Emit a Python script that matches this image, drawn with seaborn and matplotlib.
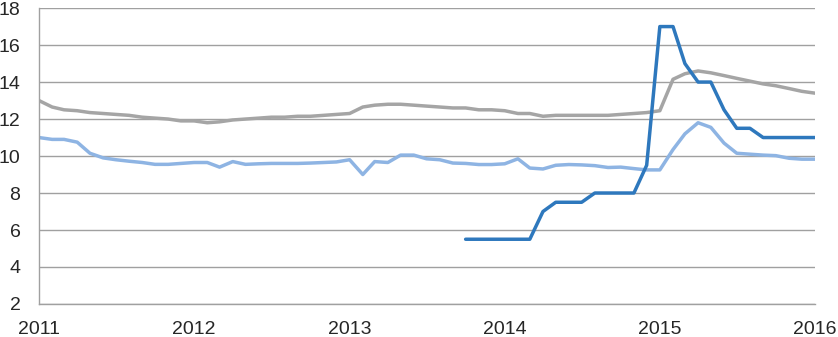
import pandas as pd
import seaborn as sns
import matplotlib.pyplot as plt
import matplotlib.dates as mdates

# monthly values, Jan 2011 .. Jan 2016
months = pd.date_range('2011-01-01', '2016-01-01', freq='MS')

grey_series = [
    13.0, 12.65, 12.5, 12.45, 12.35, 12.3, 12.25, 12.2, 12.1, 12.05, 12.0, 11.9,
    11.9, 11.8, 11.85, 11.95, 12.0, 12.05, 12.1, 12.1, 12.15, 12.15, 12.2, 12.25,
    12.3, 12.65, 12.75, 12.8, 12.8, 12.75, 12.7, 12.65, 12.6, 12.6, 12.5, 12.5,
    12.45, 12.3, 12.3, 12.15, 12.2, 12.2, 12.2, 12.2, 12.2, 12.25, 12.3, 12.35,
    12.45, 14.15, 14.45, 14.6, 14.5, 14.35, 14.2, 14.05, 13.9, 13.8, 13.65, 13.5,
    13.4,
]
light_series = [
    11.0, 10.9, 10.9, 10.75, 10.15, 9.9, 9.8, 9.72, 9.65, 9.55, 9.55, 9.6,
    9.65, 9.65, 9.4, 9.7, 9.55, 9.58, 9.6, 9.6, 9.6, 9.62, 9.65, 9.68,
    9.8, 9.0, 9.7, 9.65, 10.05, 10.05, 9.85, 9.8, 9.62, 9.6, 9.54, 9.54,
    9.58, 9.85, 9.35, 9.3, 9.5, 9.54, 9.52, 9.48, 9.38, 9.4, 9.32, 9.25,
    9.25, 10.35, 11.2, 11.8, 11.55, 10.7, 10.15, 10.1, 10.05, 10.02, 9.88, 9.83,
    9.83,
]
key_rate = [None] * 33 + [
    5.5, 5.5, 5.5,
    5.5, 5.5, 5.5, 7.0, 7.5, 7.5, 7.5, 8.0, 8.0, 8.0, 8.0, 9.5,
    17.0, 17.0, 15.0, 14.0, 14.0, 12.5, 11.5, 11.5, 11.0, 11.0, 11.0, 11.0,
    11.0,
]

df = pd.DataFrame({'date': months, 'grey': grey_series,
                   'light': light_series, 'key': key_rate})
long_df = df.melt(id_vars='date', var_name='series', value_name='value').dropna()

sns.set_style('white')
plt.rcParams['font.family'] = ['Liberation Sans', 'DejaVu Sans']

fig = plt.figure(figsize=(8.38, 3.37), dpi=100)
ax = fig.add_axes([0.0465, 0.098, 0.926, 0.878])

palette = {'grey': '#a5a5a5', 'light': '#8eb4e3', 'key': '#2e78bd'}
sns.lineplot(data=long_df, x='date', y='value', hue='series',
             hue_order=['grey', 'light', 'key'], palette=palette,
             linewidth=2.5, legend=False, ax=ax)

ax.set_xlim(months[0], months[-1])
ax.set_ylim(2, 18)
ax.set_yticks(range(2, 19, 2))
ax.xaxis.set_major_locator(mdates.YearLocator())
ax.xaxis.set_major_formatter(mdates.DateFormatter('%Y'))
ax.set_xlabel('')
ax.set_ylabel('')

ax.grid(axis='y', color='#a0a0a0', linewidth=1)
ax.grid(axis='x', visible=False)
ax.set_axisbelow(True)
for side in ['top', 'right']:
    ax.spines[side].set_visible(False)
for side in ['left', 'bottom']:
    ax.spines[side].set_color('#a0a0a0')
    ax.spines[side].set_linewidth(1)

ax.tick_params(axis='y', length=4.3, color='#a0a0a0', labelsize=14, pad=9)
ax.tick_params(axis='x', length=4.3, color='#a0a0a0', labelsize=14, pad=8)

plt.savefig('out.png', dpi=100)
